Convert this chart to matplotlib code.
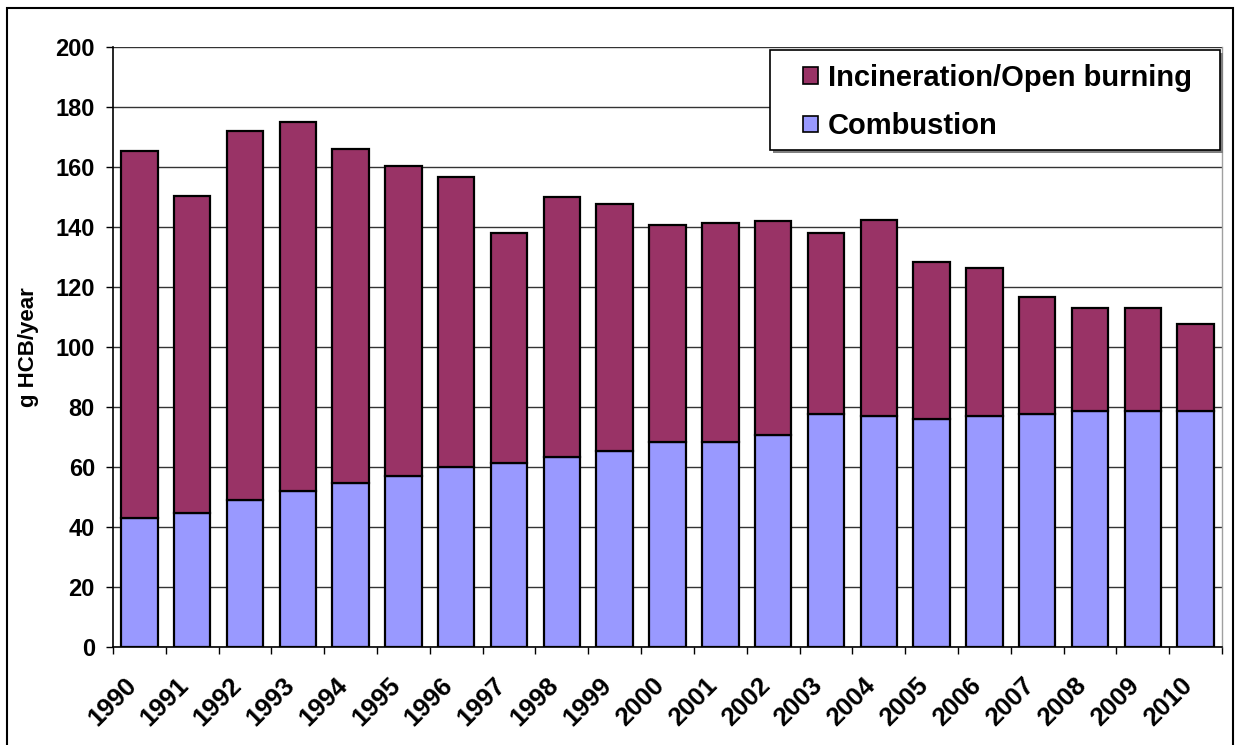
import matplotlib
matplotlib.use("Agg")
import matplotlib.pyplot as plt
import matplotlib.transforms as mtransforms
from matplotlib.patches import Rectangle, Patch
import numpy as np

years = ["1990", "1991", "1992", "1993", "1994", "1995", "1996", "1997", "1998", "1999",
         "2000", "2001", "2002", "2003", "2004", "2005", "2006", "2007", "2008", "2009", "2010"]
totals = [165.3, 150.2, 172.1, 175.1, 166.0, 160.4, 156.8, 137.9, 150.0, 147.6,
          140.8, 141.4, 142.0, 138.0, 142.4, 128.2, 126.5, 116.7, 113.0, 113.0, 107.6]
combustion = [43.1, 44.8, 49.1, 52.0, 54.7, 56.9, 59.9, 61.5, 63.5, 65.2,
              68.2, 68.2, 70.8, 77.6, 77.0, 76.0, 77.0, 77.7, 78.8, 78.8, 78.8]
incineration = [t - c for t, c in zip(totals, combustion)]
yticks = [0, 20, 40, 60, 80, 100, 120, 140, 160, 180, 200]

plt.rcParams['font.family'] = ['Liberation Sans', 'DejaVu Sans']
plt.rcParams['font.weight'] = 'bold'

W, H = 1237, 745
fig = plt.figure(figsize=(W / 100, H / 100), dpi=100)
ax = fig.add_axes([113 / W, (H - 647) / H, (1222 - 113) / W, (647 - 47) / H])

x = np.arange(len(years))
c_comb = '#9999FF'
c_inc = '#993366'
ax.bar(x, combustion, width=0.69, color=c_comb, edgecolor='black', linewidth=1.6, zorder=3)
ax.bar(x, incineration, bottom=combustion, width=0.69, color=c_inc, edgecolor='black',
       linewidth=1.6, zorder=3)

ax.set_xlim(-0.5, len(years) - 0.5)
ax.set_ylim(0, 200)
ax.set_yticks(yticks)
ax.set_yticklabels([str(v) for v in yticks], fontsize=17, fontweight='bold')
ax.yaxis.grid(True, color='#333333', linewidth=1.0, zorder=0)
ax.set_axisbelow(True)

ax.set_xticks(x)
ax.set_xticklabels(years, fontsize=18.5, fontweight='bold', rotation=45,
                   ha='right', va='center', rotation_mode='anchor')
ax.set_xticks(np.arange(-0.5, len(years), 1.0), minor=True)
ax.tick_params(axis='x', which='major', length=0, pad=25)
ax.tick_params(axis='x', which='minor', length=5, width=1, direction='out', color='black')
ax.tick_params(axis='y', which='major', length=5, width=1, direction='out', pad=8)
offset = mtransforms.ScaledTranslation(-7 / 100, 0, fig.dpi_scale_trans)
for lab in ax.get_xticklabels():
    lab.set_transform(lab.get_transform() + offset)

ax.spines['top'].set_visible(False)
ax.spines['right'].set_color('#a0a0a0')
ax.spines['right'].set_linewidth(1.0)
ax.spines['left'].set_linewidth(1.2)
ax.spines['bottom'].set_linewidth(1.2)

ax.set_ylabel('g HCB/year', fontsize=16, fontweight='bold', labelpad=12)

# legend box (manual frame with shadow)
lx0, ly0, lx1, ly1 = 770, 50, 1220, 150
shadow = Rectangle(((lx0 + 3) / W, (H - ly1 - 3) / H), (lx1 - lx0) / W, (ly1 - ly0) / H,
                   transform=fig.transFigure, facecolor='#808080', edgecolor='none', zorder=5)
frame = Rectangle((lx0 / W, (H - ly1) / H), (lx1 - lx0) / W, (ly1 - ly0) / H,
                  transform=fig.transFigure, facecolor='white', edgecolor='black',
                  linewidth=1.2, zorder=6)
fig.patches.extend([shadow, frame])
handles = [Patch(facecolor=c_inc, edgecolor='black', linewidth=1.2),
           Patch(facecolor=c_comb, edgecolor='black', linewidth=1.2)]
leg = fig.legend(handles, ['Incineration/Open burning', 'Combustion'],
                 loc='upper left', bbox_to_anchor=(803 / W, (H - 64) / H),
                 bbox_transform=fig.transFigure, frameon=False,
                 prop={'size': 21, 'weight': 'bold'}, handlelength=0.5, handleheight=0.5,
                 handletextpad=0.35, labelspacing=0.7, borderpad=0.0, borderaxespad=0)
leg.set_zorder(7)

# outer frame
fig.patches.append(Rectangle((7 / W, -0.02), (1233 - 7) / W, (H - 8) / H + 0.02,
                             transform=fig.transFigure, fill=False, edgecolor='black',
                             linewidth=1.5, zorder=10))

fig.savefig('out.png', dpi=100)
